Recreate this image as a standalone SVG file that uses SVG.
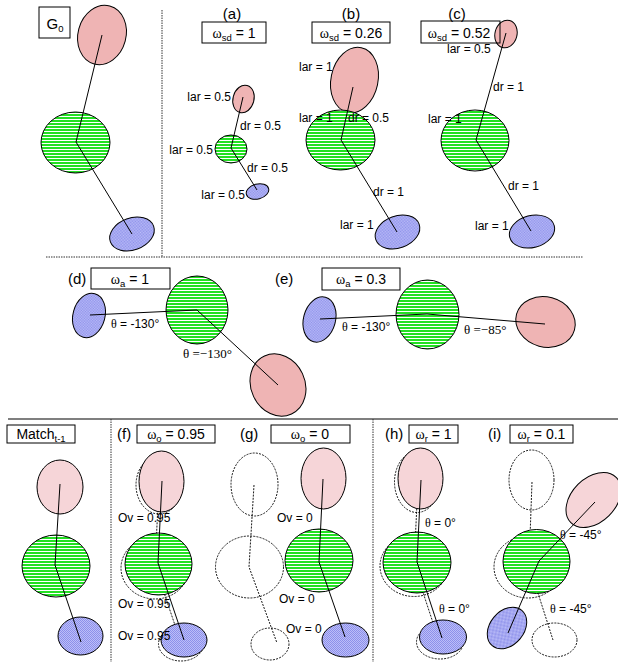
<svg xmlns="http://www.w3.org/2000/svg" width="618" height="662" viewBox="0 0 618 662">
  <defs>
    <!-- green body part: horizontal white stripes -->
    <pattern id="stripes" width="4" height="3" patternUnits="userSpaceOnUse">
      <rect width="4" height="3" fill="#ffffff"/>
      <rect width="4" height="2" fill="#22e022"/>
    </pattern>
    <!-- blue body part: fine checker -->
    <pattern id="checker" width="2" height="2" patternUnits="userSpaceOnUse">
      <rect width="2" height="2" fill="#bcbef8"/>
      <rect width="1" height="1" fill="#8d90ea"/>
      <rect x="1" y="1" width="1" height="1" fill="#8d90ea"/>
    </pattern>
    <style>
      .pink { fill: #efb4b4; stroke: #000; stroke-width: 1; }
      .pinkL { fill: #f6d5d8; stroke: #000; stroke-width: 1; }
      .green { fill: url(#stripes); stroke: #000; stroke-width: 1; }
      .blue { fill: url(#checker); stroke: #000; stroke-width: 1; }
      .ghost { fill: none; stroke: #000; stroke-width: 0.9; stroke-dasharray: 2 1.2; }
      .link { fill: none; stroke: #000; stroke-width: 1; }
      .glink { fill: none; stroke: #000; stroke-width: 0.9; stroke-dasharray: 2 1.2; }
      .sep { stroke: #333; stroke-width: 1; stroke-dasharray: 1.5 1; fill: none; }
      .rule { stroke: #000; stroke-width: 1.2; }
      .box { fill: none; stroke: #000; stroke-width: 1; }
      .t { font-family: "Liberation Sans", Arial, sans-serif; font-size: 12px; fill: #000; }
      .tb { font-family: "Liberation Sans", Arial, sans-serif; font-size: 14px; fill: #000; }
      .tp { font-family: "Liberation Sans", Arial, sans-serif; font-size: 15px; fill: #000; }
      .g { font-family: "Liberation Serif", "Times New Roman", serif; }
      .sub { font-size: 9.5px; }
      .ts { font-family: "Liberation Serif", "Times New Roman", serif; font-size: 13px; fill: #000; }
    </style>
  </defs>

  <!-- panel separators -->
  <g id="separators">
    <line class="sep" x1="162" y1="10" x2="162" y2="257"/>
    <line class="sep" x1="46" y1="257" x2="583" y2="257"/>
    <line class="rule" x1="8" y1="419" x2="618" y2="419"/>
    <line class="sep" x1="111" y1="419" x2="111" y2="662"/>
    <line class="sep" x1="373" y1="419" x2="373" y2="662"/>
  </g>

  <!-- ghost (previous match) parts, drawn dashed beneath -->
  <g id="ghost-nodes">
    <g id="f-ghost">
      <ellipse class="ghost" cx="159" cy="485" rx="23" ry="29"/>
      <ellipse class="ghost" cx="155" cy="568" rx="34" ry="31"/>
      <ellipse class="ghost" cx="181" cy="644" rx="22.5" ry="17"/>
    </g>
    <g id="g-ghost">
      <ellipse class="ghost" cx="254.5" cy="484.5" rx="23.5" ry="31.5"/>
      <ellipse class="ghost" cx="249.5" cy="567" rx="34" ry="31"/>
      <ellipse class="ghost" cx="270" cy="644" rx="19" ry="16"/>
    </g>
    <g id="h-ghost">
      <ellipse class="ghost" cx="417" cy="482" rx="22.5" ry="30.5"/>
      <ellipse class="ghost" cx="414" cy="566" rx="34" ry="30.5"/>
      <ellipse class="ghost" cx="440" cy="642" rx="23.5" ry="17"/>
    </g>
    <g id="i-ghost">
      <ellipse class="ghost" cx="531.5" cy="480" rx="22.5" ry="30"/>
      <ellipse class="ghost" cx="528" cy="567" rx="34" ry="31"/>
      <ellipse class="ghost" cx="554.5" cy="640" rx="22.5" ry="17"/>
    </g>
  </g>
  <g id="ghost-connectors">
    <polyline class="glink" points="159,484 155,566 181,643"/>
    <polyline class="glink" points="254,485 249,567 277,643"/>
    <polyline class="glink" points="418,483 414,565 439,641"/>
    <polyline class="glink" points="532,482 529,565 553,640"/>
  </g>

  <!-- body parts -->
  <g id="G0">
    <ellipse class="pink" cx="102" cy="35" rx="24" ry="30" transform="rotate(15 102 35)"/>
    <ellipse class="green" cx="75.5" cy="142.5" rx="34.5" ry="30.5"/>
    <ellipse class="blue" cx="132" cy="234" rx="23" ry="16" transform="rotate(-20 132 234)"/>
  </g>
  <g id="a">
    <ellipse class="pink" cx="243.5" cy="99" rx="10.5" ry="14" transform="rotate(15 243.5 99)"/>
    <ellipse class="green" cx="231" cy="149" rx="16" ry="14"/>
    <ellipse class="blue" cx="257.5" cy="191.5" rx="11.5" ry="7.5" transform="rotate(-15 257.5 191.5)"/>
  </g>
  <g id="b">
    <ellipse class="pink" cx="354.5" cy="80" rx="23.5" ry="33" transform="rotate(12 354.5 80)"/>
    <ellipse class="green" cx="340.5" cy="140" rx="34.5" ry="30"/>
    <ellipse class="blue" cx="397.5" cy="232" rx="23" ry="16" transform="rotate(-20 397.5 232)"/>
  </g>
  <g id="c">
    <ellipse class="pink" cx="506" cy="34" rx="11" ry="14" transform="rotate(15 506 34)"/>
    <ellipse class="green" cx="475" cy="140.5" rx="34" ry="30.5"/>
    <ellipse class="blue" cx="532" cy="231.5" rx="23" ry="16" transform="rotate(-15 532 231.5)"/>
  </g>
  <g id="d">
    <ellipse class="blue" cx="89" cy="315.5" rx="16" ry="22.5" transform="rotate(15 89 315.5)"/>
    <ellipse class="green" cx="197" cy="310" rx="31" ry="34"/>
    <ellipse class="pink" cx="278" cy="385" rx="27" ry="32" transform="rotate(-25 278 385)"/>
  </g>
  <g id="e">
    <ellipse class="blue" cx="319.5" cy="319.5" rx="16" ry="23" transform="rotate(15 319.5 319.5)"/>
    <ellipse class="green" cx="427.5" cy="314.5" rx="31.5" ry="34.5"/>
    <ellipse class="pink" cx="545.5" cy="322" rx="30" ry="25" transform="rotate(15 545.5 322)"/>
  </g>
  <g id="match">
    <ellipse class="pinkL" cx="60" cy="487" rx="23" ry="27"/>
    <ellipse class="green" cx="56" cy="566" rx="34" ry="31"/>
    <ellipse class="blue" cx="80.5" cy="636" rx="22.5" ry="19"/>
  </g>
  <g id="f">
    <ellipse class="pinkL" cx="161.5" cy="481.5" rx="22.5" ry="30.5"/>
    <ellipse class="green" cx="158.5" cy="564" rx="33.5" ry="31"/>
    <ellipse class="blue" cx="184" cy="640" rx="23" ry="17"/>
  </g>
  <g id="g">
    <ellipse class="pinkL" cx="323.5" cy="478.5" rx="22.5" ry="30.5"/>
    <ellipse class="green" cx="319" cy="560.5" rx="34" ry="31.5"/>
    <ellipse class="blue" cx="345.5" cy="640" rx="23.5" ry="17"/>
  </g>
  <g id="h">
    <ellipse class="pinkL" cx="420.5" cy="478.5" rx="22.5" ry="30.5"/>
    <ellipse class="green" cx="417" cy="562.5" rx="34" ry="30.5"/>
    <ellipse class="blue" cx="443" cy="637" rx="23.5" ry="17"/>
  </g>
  <g id="i">
    <ellipse class="green" cx="536.5" cy="561.5" rx="33.5" ry="32"/>
    <ellipse class="pinkL" cx="593.5" cy="500" rx="22" ry="32" transform="rotate(45 593.5 500)"/>
    <ellipse class="blue" cx="507" cy="628" rx="17" ry="23" transform="rotate(40 507 628)"/>
  </g>

  <!-- skeleton links -->
  <g id="connectors">
    <polyline class="link" points="102,35 76,142 132,234"/>
    <polyline class="link" points="243,97 231,148 257,190"/>
    <polyline class="link" points="353,87 341,140 397,232"/>
    <polyline class="link" points="506,33 476,140 531,231"/>
    <polyline class="link" points="90,315 197,310 278,385"/>
    <polyline class="link" points="320,319 427,314 545,324"/>
    <polyline class="link" points="60,484 55,565 81,642"/>
    <polyline class="link" points="162,481 158,563 184,640"/>
    <polyline class="link" points="323,479 319,562 345,637"/>
    <polyline class="link" points="421,480 417,562 442,638"/>
    <polyline class="link" points="595,502 539,561 508,633"/>
  </g>

  <!-- titles and weight boxes -->
  <g id="titles">
    <rect class="box" x="39" y="7" width="31" height="31"/>
    <text class="tp" x="55" y="29" text-anchor="middle">G<tspan class="sub" dy="3">0</tspan></text>

    <text class="tp" x="232" y="19" text-anchor="middle">(a)</text>
    <rect class="box" x="202" y="22" width="64" height="21"/>
    <text class="tb" x="234" y="38" text-anchor="middle"><tspan class="g">ω</tspan><tspan class="sub" dy="3">sd</tspan><tspan dy="-3"> = 1</tspan></text>

    <text class="tp" x="351" y="19" text-anchor="middle">(b)</text>
    <rect class="box" x="312" y="22" width="78" height="21"/>
    <text class="tb" x="351" y="38" text-anchor="middle"><tspan class="g">ω</tspan><tspan class="sub" dy="3">sd</tspan><tspan dy="-3"> = 0.26</tspan></text>

    <text class="tp" x="457" y="19" text-anchor="middle">(c)</text>
    <rect class="box" x="421" y="21" width="79" height="22"/>
    <text class="tb" x="459" y="38" text-anchor="middle"><tspan class="g">ω</tspan><tspan class="sub" dy="3">sd</tspan><tspan dy="-3"> = 0.52</tspan></text>

    <text class="tp" x="68" y="284">(d)</text>
    <rect class="box" x="91" y="268" width="79" height="21"/>
    <text class="tb" x="130" y="284" text-anchor="middle"><tspan class="g">ω</tspan><tspan class="sub" dy="3">a</tspan><tspan dy="-3"> = 1</tspan></text>

    <text class="tp" x="275" y="284">(e)</text>
    <rect class="box" x="322" y="268" width="78" height="22"/>
    <text class="tb" x="361" y="284" text-anchor="middle"><tspan class="g">ω</tspan><tspan class="sub" dy="3">a</tspan><tspan dy="-3"> = 0.3</tspan></text>

    <rect class="box" x="7" y="425" width="68" height="18"/>
    <text class="tb" x="41" y="439" text-anchor="middle">Match<tspan class="sub" dy="3">t-1</tspan></text>

    <text class="tp" x="117" y="439">(f)</text>
    <rect class="box" x="137" y="425" width="78" height="18"/>
    <text class="tb" x="176" y="439" text-anchor="middle"><tspan class="g">ω</tspan><tspan class="sub" dy="3">o</tspan><tspan dy="-3"> = 0.95</tspan></text>

    <text class="tp" x="240" y="439">(g)</text>
    <rect class="box" x="271" y="425" width="79" height="18"/>
    <text class="tb" x="310" y="439" text-anchor="middle"><tspan class="g">ω</tspan><tspan class="sub" dy="3">o</tspan><tspan dy="-3"> = 0</tspan></text>

    <text class="tp" x="385" y="439">(h)</text>
    <rect class="box" x="409" y="425" width="49" height="18"/>
    <text class="tb" x="433.5" y="439" text-anchor="middle"><tspan class="g">ω</tspan><tspan class="sub" dy="3">r</tspan><tspan dy="-3"> = 1</tspan></text>

    <text class="tp" x="488" y="439">(i)</text>
    <rect class="box" x="510" y="425" width="63" height="18"/>
    <text class="tb" x="541.5" y="439" text-anchor="middle"><tspan class="g">ω</tspan><tspan class="sub" dy="3">r</tspan><tspan dy="-3"> = 0.1</tspan></text>
  </g>

  <!-- part and link annotations -->
  <g id="labels">
    <text class="t" x="231" y="101" text-anchor="end">lar = 0.5</text>
    <text class="t" x="240" y="130">dr = 0.5</text>
    <text class="t" x="213" y="154" text-anchor="end">lar = 0.5</text>
    <text class="t" x="247" y="172">dr = 0.5</text>
    <text class="t" x="245" y="199" text-anchor="end">lar = 0.5</text>

    <text class="t" x="299" y="71">lar = 1</text>
    <text class="t" x="299" y="122">lar = 1</text>
    <text class="t" x="348" y="122">dr = 0.5</text>
    <text class="t" x="373" y="196">dr = 1</text>
    <text class="t" x="340" y="229">lar = 1</text>

    <text class="t" x="447" y="53">lar = 0.5</text>
    <text class="t" x="493" y="91">dr = 1</text>
    <text class="t" x="428" y="123">lar = 1</text>
    <text class="t" x="508" y="190">dr = 1</text>
    <text class="t" x="475" y="230">lar = 1</text>

    <text class="t" x="111" y="328"><tspan class="g">θ</tspan> = -130°</text>
    <text class="ts" x="183" y="358">θ =−130°</text>
    <text class="t" x="342" y="331"><tspan class="g">θ</tspan> = -130°</text>
    <text class="ts" x="464" y="334">θ =−85°</text>

    <text class="t" x="118" y="522">Ov = 0.95</text>
    <text class="t" x="118" y="608">Ov = 0.95</text>
    <text class="t" x="118" y="640">Ov = 0.95</text>

    <text class="t" x="277" y="522">Ov = 0</text>
    <text class="t" x="279" y="603">Ov = 0</text>
    <text class="t" x="286" y="633">Ov = 0</text>

    <text class="t" x="425" y="527"><tspan class="g">θ</tspan> = 0°</text>
    <text class="t" x="439" y="613"><tspan class="g">θ</tspan> = 0°</text>

    <text class="t" x="560" y="539"><tspan class="g">θ</tspan> = -45°</text>
    <text class="t" x="550" y="613"><tspan class="g">θ</tspan> = -45°</text>
  </g>
</svg>
